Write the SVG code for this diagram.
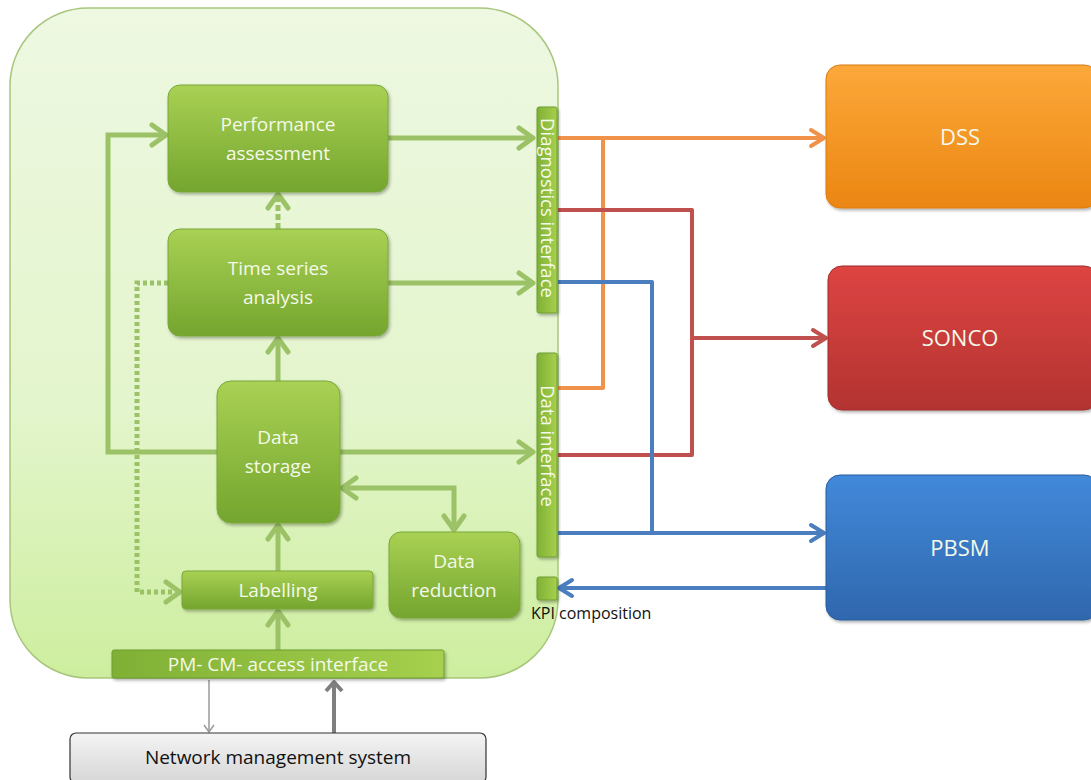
<svg xmlns="http://www.w3.org/2000/svg" width="1091" height="780" viewBox="0 0 1091 780">
<defs>
<linearGradient id="gBg" x1="0" y1="0" x2="0" y2="1"><stop offset="0" stop-color="#eef8e2"/><stop offset="0.6" stop-color="#e3f5cc"/><stop offset="1" stop-color="#cdee9e"/></linearGradient>
<linearGradient id="gNode" x1="0" y1="0" x2="0" y2="1"><stop offset="0" stop-color="#a9d154"/><stop offset="1" stop-color="#74a52e"/></linearGradient>
<linearGradient id="gBar" x1="0" y1="0" x2="1" y2="0"><stop offset="0" stop-color="#7fb035"/><stop offset="1" stop-color="#a6d04e"/></linearGradient>
<linearGradient id="gDss" x1="0" y1="0" x2="0" y2="1"><stop offset="0" stop-color="#fca83a"/><stop offset="1" stop-color="#eb8612"/></linearGradient>
<linearGradient id="gSon" x1="0" y1="0" x2="0" y2="1"><stop offset="0" stop-color="#dd4442"/><stop offset="1" stop-color="#b33331"/></linearGradient>
<linearGradient id="gPb" x1="0" y1="0" x2="0" y2="1"><stop offset="0" stop-color="#4289da"/><stop offset="1" stop-color="#2f67ad"/></linearGradient>
<linearGradient id="gNms" x1="0" y1="0" x2="0" y2="1"><stop offset="0" stop-color="#f4f4f4"/><stop offset="1" stop-color="#d6d6d6"/></linearGradient>
<filter id="sh" x="-10%" y="-10%" width="130%" height="130%"><feDropShadow dx="1.5" dy="2" stdDeviation="1.5" flood-color="#000" flood-opacity="0.3"/></filter>
<marker id="ag" markerUnits="userSpaceOnUse" markerWidth="22" markerHeight="28" viewBox="0 0 22 28" refX="18" refY="14" orient="auto-start-reverse"><path d="M4,4 L18,14 L4,24" fill="none" stroke="#9cc267" stroke-width="5" stroke-linecap="round" stroke-linejoin="round"/></marker>
<marker id="ao" markerUnits="userSpaceOnUse" markerWidth="20" markerHeight="24" viewBox="0 0 20 24" refX="17" refY="12" orient="auto"><path d="M4,4 L17,12 L4,20" fill="none" stroke="#f0924a" stroke-width="4" stroke-linecap="round" stroke-linejoin="round"/></marker>
<marker id="ar" markerUnits="userSpaceOnUse" markerWidth="20" markerHeight="24" viewBox="0 0 20 24" refX="17" refY="12" orient="auto"><path d="M4,4 L17,12 L4,20" fill="none" stroke="#c0504d" stroke-width="4" stroke-linecap="round" stroke-linejoin="round"/></marker>
<marker id="ab" markerUnits="userSpaceOnUse" markerWidth="20" markerHeight="24" viewBox="0 0 20 24" refX="17" refY="12" orient="auto"><path d="M4,4 L17,12 L4,20" fill="none" stroke="#4a7ebe" stroke-width="4" stroke-linecap="round" stroke-linejoin="round"/></marker>
<marker id="agr" markerUnits="userSpaceOnUse" markerWidth="14" markerHeight="14" viewBox="0 0 14 14" refX="12" refY="7" orient="auto"><path d="M5,2 L12,7 L5,12" fill="none" stroke="#999" stroke-width="1.5"/></marker>
<marker id="agk" markerUnits="userSpaceOnUse" markerWidth="22" markerHeight="22" viewBox="0 0 22 22" refX="19" refY="11" orient="auto"><path d="M10,3 L19,11 L10,19" fill="none" stroke="#7f7f7f" stroke-width="4" stroke-linejoin="round"/></marker>
<style>
.t{font-family:"Open Sans","Noto Sans","Liberation Sans",sans-serif;fill:#f4f9ea;text-anchor:middle}
.tn{font-size:19px}
.gl{fill:none;stroke:#9cc267;stroke-width:5}
.node{fill:url(#gNode);stroke:#79a83a;stroke-width:1;filter:url(#sh)}
.bar{fill:url(#gBar);stroke:#6f9e30;stroke-width:1;filter:url(#sh)}
</style>
</defs>

<rect id="container" x="10" y="8" width="548" height="670" rx="78" fill="url(#gBg)" stroke="#a8c67c" stroke-width="1.5"/>

<g id="connectors">
<path class="gl" d="M388,138 L533,138" marker-end="url(#ag)"/>
<path class="gl" d="M388,283 L533,283" marker-end="url(#ag)"/>
<path class="gl" d="M340,452 L533,452" marker-end="url(#ag)"/>
<path class="gl" d="M217,452 L108,452 L108,135 L166,135" marker-end="url(#ag)"/>
<path class="gl" d="M168,283 L137,283 L137,592 L180,592" stroke-dasharray="4 3" marker-end="url(#ag)"/>
<path class="gl" d="M278,229 L278,194" stroke-dasharray="6 3" marker-end="url(#ag)"/>
<path class="gl" d="M278,381 L278,338" marker-end="url(#ag)"/>
<path class="gl" d="M278,571 L278,525" marker-end="url(#ag)"/>
<path class="gl" d="M278,650 L278,611" marker-end="url(#ag)"/>
<path class="gl" d="M342,488 L454,488 L454,530" marker-start="url(#ag)" marker-end="url(#ag)"/>
<path d="M209,680 L209,732" fill="none" stroke="#999" stroke-width="1.5" marker-end="url(#agr)"/>
<path d="M334,733 L334,682" fill="none" stroke="#7f7f7f" stroke-width="4" marker-end="url(#agk)"/>
<path d="M558,138 L824,138 M558,388 L603,388 L603,138" fill="none" stroke="#f0924a" stroke-width="4" stroke-linejoin="round"/>
<path d="M558,138 L824,138" fill="none" stroke="none" marker-end="url(#ao)"/>
<path d="M558,210 L692,210 L692,455 L558,455 M692,338 L826,338" fill="none" stroke="#c0504d" stroke-width="4" stroke-linejoin="round"/>
<path d="M692,338 L826,338" fill="none" stroke="none" marker-end="url(#ar)"/>
<path d="M558,282 L652,282 L652,533 M558,533 L824,533" fill="none" stroke="#4a7ebe" stroke-width="4" stroke-linejoin="round"/>
<path d="M558,533 L824,533" fill="none" stroke="none" marker-end="url(#ab)"/>
<path d="M826,588 L559,588" fill="none" stroke="#4a7ebe" stroke-width="4" marker-end="url(#ab)"/>
</g>

<g id="perf"><rect class="node" x="168" y="85" width="220" height="107" rx="12"/><text class="t tn" x="278" y="131">Performance</text><text class="t tn" x="278" y="160">assessment</text></g>
<g id="tsa"><rect class="node" x="168" y="229" width="220" height="107" rx="12"/><text class="t tn" x="278" y="275">Time series</text><text class="t tn" x="278" y="304">analysis</text></g>
<g id="storage"><rect class="node" x="217" y="381" width="123" height="142" rx="14"/><text class="t tn" x="278" y="444">Data</text><text class="t tn" x="278" y="473">storage</text></g>
<g id="reduction"><rect class="node" x="389" y="532" width="131" height="86" rx="12"/><text class="t tn" x="454" y="568">Data</text><text class="t tn" x="454" y="597">reduction</text></g>
<g id="labelling"><rect class="node" x="182" y="571" width="191" height="38" rx="4"/><text class="t tn" x="278" y="597">Labelling</text></g>
<g id="pmcm"><rect class="bar" x="112" y="650" width="332" height="28" rx="2"/><text class="t" x="278" y="671" font-size="19">PM- CM- access interface</text></g>
<g id="diag"><rect class="bar" x="537" y="107" width="20" height="206" rx="2"/><text class="t" transform="translate(541,208) rotate(90)" font-size="18.5">Diagnostics interface</text></g>
<g id="datai"><rect class="bar" x="537" y="353" width="20" height="204" rx="2"/><text class="t" transform="translate(541,446) rotate(90)" font-size="18.5">Data interface</text></g>
<g id="kpi"><rect class="bar" x="537" y="577" width="20" height="23" rx="2"/><text x="531" y="619" font-family="Open Sans,Noto Sans,Liberation Sans,sans-serif" font-size="16" fill="#111">KPI composition</text></g>
<g id="nms"><rect x="70" y="733" width="416" height="50" rx="6" fill="url(#gNms)" stroke="#333" stroke-width="1.2"/><text x="278" y="764" font-family="Open Sans,Noto Sans,Liberation Sans,sans-serif" font-size="19" fill="#111" text-anchor="middle">Network management system</text></g>
<g id="dss"><rect x="826" y="65" width="272" height="143" rx="14" fill="url(#gDss)" stroke="#d97c10" filter="url(#sh)"/><text class="t" x="960" y="145" font-size="22" fill="#fff">DSS</text></g>
<g id="sonco"><rect x="828" y="266" width="270" height="144" rx="14" fill="url(#gSon)" stroke="#a02e2c" filter="url(#sh)"/><text class="t" x="960" y="346" font-size="22">SONCO</text></g>
<g id="pbsm"><rect x="826" y="475" width="272" height="145" rx="14" fill="url(#gPb)" stroke="#2b5e9e" filter="url(#sh)"/><text class="t" x="960" y="556" font-size="22">PBSM</text></g>
</svg>
